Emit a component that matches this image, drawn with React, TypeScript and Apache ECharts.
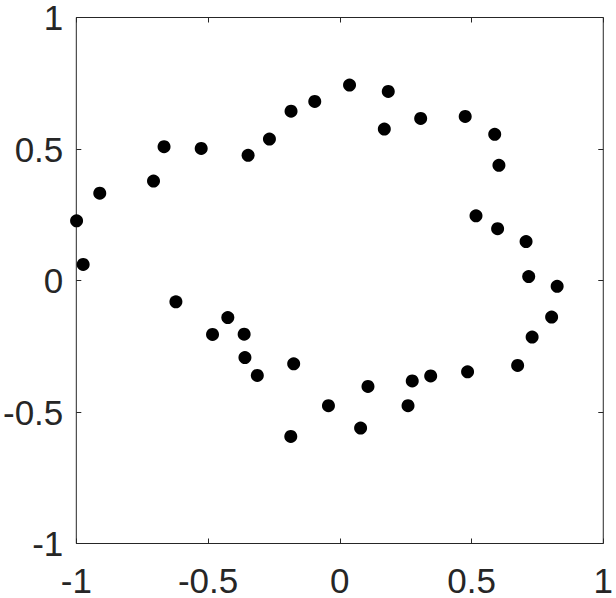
import React, { useEffect, useRef } from "react";
import * as echarts from "echarts";

const xValues = [
  -0.667, -0.526, -0.348, -0.707, -0.911, -0.999, -0.974, -0.267, -0.185, -0.095,
  0.037, 0.184, 0.169, 0.307, 0.476, 0.588, 0.604, 0.517, 0.599, 0.707,
  0.717, 0.825, 0.804, 0.73, 0.675, 0.485, -0.622, -0.425, -0.483, -0.363,
  -0.36, -0.313, -0.175, -0.186, -0.043, 0.107, 0.079, 0.259, 0.275, 0.345,
];
const yValues = [
  0.509, 0.502, 0.476, 0.378, 0.332, 0.227, 0.061, 0.538, 0.644, 0.681,
  0.743, 0.719, 0.576, 0.616, 0.624, 0.556, 0.438, 0.246, 0.197, 0.148,
  0.015, -0.022, -0.139, -0.215, -0.323, -0.347, -0.081, -0.141, -0.205, -0.204,
  -0.293, -0.361, -0.317, -0.593, -0.476, -0.403, -0.561, -0.476, -0.382, -0.363,
];
const tickLabels = ["-1", "-0.5", "0", "0.5", "1"];

const axisColor = "#262626";
const fontFamily = "'Liberation Sans', Arial, sans-serif";

export default function App() {
  const ref = useRef<HTMLDivElement>(null);
  useEffect(() => {
    if (!ref.current) return;
    const chart = echarts.init(ref.current, undefined, { renderer: "svg" });
    const fmt = (v: number) => {
      const idx = Math.round((v + 1) / 0.5);
      return tickLabels[idx] ?? String(v);
    };
    const baseAxis = {
      min: -1,
      max: 1,
      interval: 0.5,
      splitLine: { show: false },
      axisLine: { show: false, onZero: false },
      axisTick: { show: true, inside: true, length: 5, lineStyle: { color: axisColor, width: 1 } },
    };
    chart.setOption({
      animation: false,
      backgroundColor: "#ffffff",
      grid: {
        left: 75,
        top: 12,
        width: 535,
        height: 535,
        show: true,
        borderColor: axisColor,
        borderWidth: 1,
        backgroundColor: "transparent",
      },
      xAxis: [
        {
          ...baseAxis,
          type: "value",
          position: "bottom",
          axisLabel: {
            color: axisColor,
            fontSize: 35,
            lineHeight: 26,
            fontFamily,
            margin: 24,
            formatter: fmt,
          },
        },
        {
          ...baseAxis,
          type: "value",
          position: "top",
          axisLabel: { show: false },
        },
      ],
      yAxis: [
        {
          ...baseAxis,
          type: "value",
          position: "left",
          axisLabel: {
            color: axisColor,
            fontSize: 35,
            lineHeight: 26,
            padding: [6, 0, 0, 0],
            fontFamily,
            margin: 13,
            formatter: fmt,
          },
        },
        {
          ...baseAxis,
          type: "value",
          position: "right",
          axisLabel: { show: false },
        },
      ],
      series: [
        {
          type: "scatter",
          xAxisIndex: 0,
          yAxisIndex: 0,
          symbol: "circle",
          symbolSize: 13,
          itemStyle: { color: "#000000", opacity: 1 },
          data: xValues.map((x, i) => [x, yValues[i]]),
        },
      ],
    });
    return () => chart.dispose();
  }, []);
  return (
    <div
      ref={ref}
      style={{ position: "fixed", left: 0, top: 0, width: 616, height: 598, background: "#fff" }}
    />
  );
}
